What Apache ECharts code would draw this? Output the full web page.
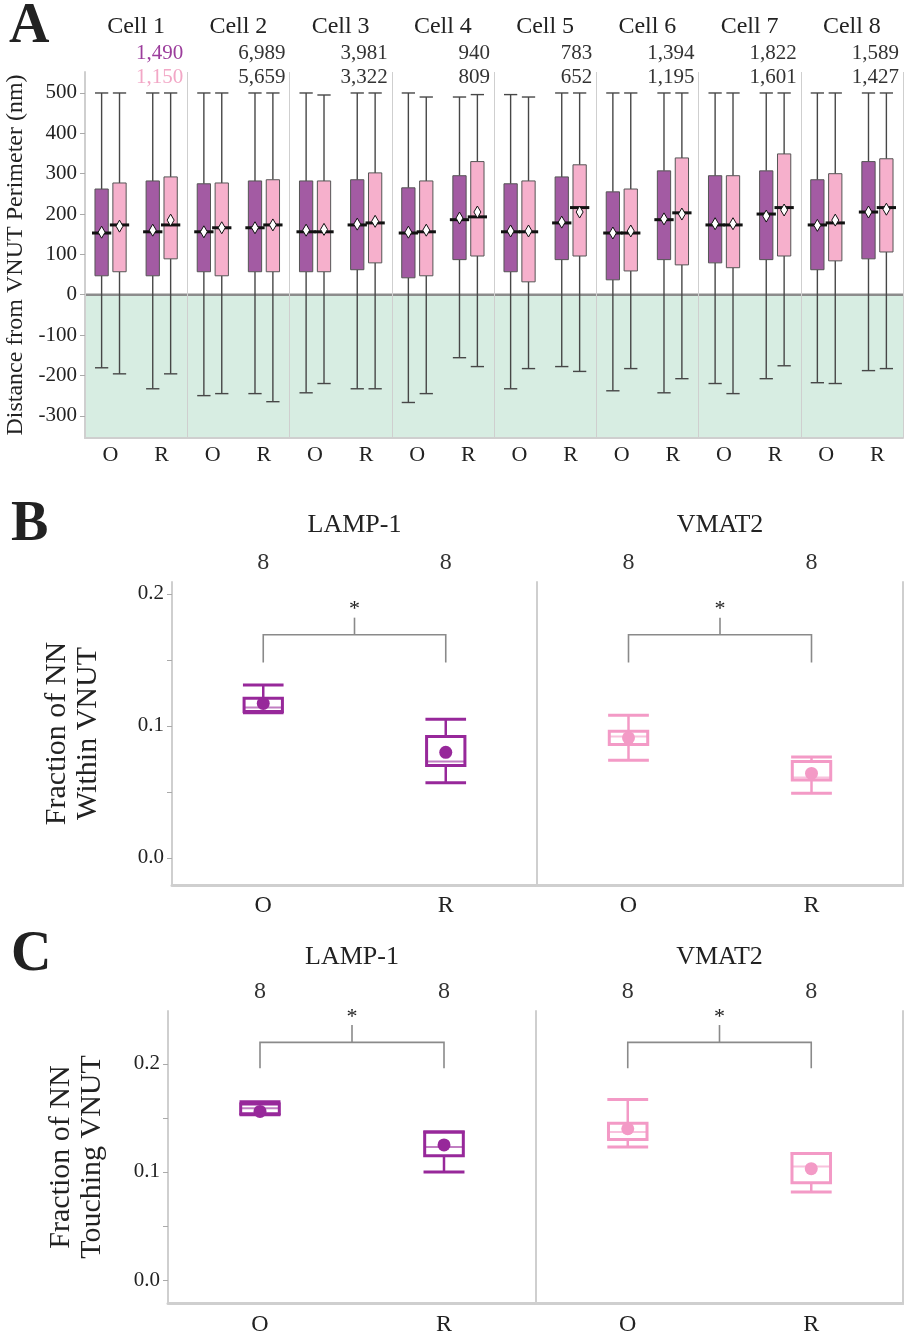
<!DOCTYPE html>
<html>
<head>
<meta charset="utf-8">
<title>VNUT distance</title>
<script src="https://cdn.jsdelivr.net/npm/echarts@6/dist/echarts.min.js"></script>
<style>
  html, body { margin: 0; padding: 0; background: #fff; }
  #chart { width: 904px; height: 1337px; }
</style>
</head>
<body>
<div id="chart"></div>
<script>
// ---- panel A data ----
const cellNames = ['Cell 1', 'Cell 2', 'Cell 3', 'Cell 4', 'Cell 5', 'Cell 6', 'Cell 7', 'Cell 8'];
const groups = ['O', 'R'];
const countsDark = ['1,490', '6,989', '3,981', '940', '783', '1,394', '1,822', '1,589'];
const countsLight = ['1,150', '5,659', '3,322', '809', '652', '1,195', '1,601', '1,427'];
const distTicks = [-300, -200, -100, 0, 100, 200, 300, 400, 500];
const zeroLevel = 0;

// [low whisker, q1, median, q3, high whisker], O then R for each cell
const darkBoxes = [
  [-181, 47, 153, 262, 500], [-233, 47, 156, 282, 500],
  [-250, 57, 156, 275, 500], [-245, 57, 166, 282, 500],
  [-243, 57, 156, 282, 500], [-233, 62, 173, 285, 500],
  [-267, 42, 153, 265, 500], [-156, 87, 186, 295, 490],
  [-233, 57, 156, 275, 496], [-178, 87, 178, 292, 500],
  [-238, 37, 153, 255, 500], [-243, 87, 186, 307, 500],
  [-220, 79, 173, 295, 500], [-208, 87, 200, 307, 500],
  [-218, 62, 173, 285, 500], [-188, 89, 205, 330, 500]
];
const darkMeans = [155, 160, 156, 166, 160, 175, 155, 190, 158, 180, 153, 188, 176, 195, 172, 205];

const lightBoxes = [
  [-196, 57, 173, 277, 500], [-196, 89, 173, 292, 500],
  [-245, 47, 166, 277, 500], [-265, 57, 173, 285, 500],
  [-220, 57, 156, 282, 495], [-233, 79, 178, 302, 500],
  [-245, 47, 156, 282, 490], [-178, 96, 193, 330, 496],
  [-183, 32, 156, 282, 490], [-190, 96, 216, 322, 500],
  [-183, 59, 153, 262, 500], [-208, 74, 203, 339, 500],
  [-245, 67, 173, 295, 500], [-176, 96, 216, 349, 500],
  [-220, 84, 178, 300, 500], [-183, 106, 216, 337, 500]
];
const lightMeans = [170, 185, 166, 173, 162, 182, 160, 205, 158, 205, 158, 200, 176, 210, 185, 212];

// ---- panels B and C data ----
const markers = ['LAMP-1', 'VMAT2'];
const nCells = [8, 8];
const fracTicks = [0, 0.05, 0.1, 0.15, 0.2];
const fracLabels = [0, 0.1, 0.2];

const withinLamp = [[0.110, 0.111, 0.114, 0.121, 0.131], [0.057, 0.070, 0.073, 0.092, 0.105]];
const withinLampMean = [0.117, 0.080];
const withinVmat = [[0.074, 0.086, 0.092, 0.096, 0.108], [0.049, 0.059, 0.061, 0.073, 0.0765]];
const withinVmatMean = [0.091, 0.064];
const withinBracket = [0.148, 0.169, 0.182];

const touchLamp = [[0.153, 0.154, 0.159, 0.163, 0.165], [0.100, 0.115, 0.123, 0.137, 0.137]];
const touchLampMean = [0.156, 0.125];
const touchVmat = [[0.123, 0.130, 0.137, 0.145, 0.167], [0.0815, 0.090, 0.105, 0.117, 0.117]];
const touchVmatMean = [0.140, 0.103];
const touchBracket = [0.196, 0.220, 0.236];

// ---- styling ----
const serif = 'Liberation Serif';
const ink = '#222';
const frame = '#cfcfcf';
const darkFill = '#a35ba3';
const lightFill = '#f6b0cc';
const lampColor = '#97289a';
const vmatColor = '#f39ac6';

const myChart = echarts.init(document.getElementById('chart'));

const cellCats = [];
cellNames.forEach(c => groups.forEach(g => cellCats.push(c + ' ' + g)));

function hidden(extra) {
  return Object.assign({
    axisLine: { show: false }, axisTick: { show: false }, splitLine: { show: false }
  }, extra);
}

// box + whisker for panel A
function cellBoxSeries(boxes, means, fill, side) {
  return {
    type: 'custom', xAxisIndex: 0, yAxisIndex: 0, z: 3, silent: true,
    data: boxes.map((b, i) => [i].concat(b, [means[i]])),
    encode: { x: 0, y: [1, 2, 3, 4, 5, 6] },
    renderItem(params, api) {
      const i = api.value(0);
      const band = api.size([1, 0])[0];
      const cx = api.coord([i, 0])[0] + side * band * 0.175;
      const y = k => api.coord([i, api.value(k)])[1];
      const w = band * 0.26;
      const ym = y(6);
      const wire = { stroke: '#474747', lineWidth: 1.4 };
      return {
        type: 'group', children: [
          { type: 'line', shape: { x1: cx, y1: y(5), x2: cx, y2: y(4) }, style: wire },
          { type: 'line', shape: { x1: cx, y1: y(2), x2: cx, y2: y(1) }, style: wire },
          { type: 'line', shape: { x1: cx - w / 2, y1: y(5), x2: cx + w / 2, y2: y(5) }, style: wire },
          { type: 'line', shape: { x1: cx - w / 2, y1: y(1), x2: cx + w / 2, y2: y(1) }, style: wire },
          { type: 'rect', shape: { x: cx - w / 2, y: y(4), width: w, height: y(2) - y(4) },
            style: { fill: fill, stroke: '#555', lineWidth: 1 } },
          { type: 'line', shape: { x1: cx - w / 2 - 3, y1: y(3), x2: cx + w / 2 + 3, y2: y(3) },
            style: { stroke: '#111', lineWidth: 3 } },
          { type: 'polygon', shape: { points: [[cx, ym - 6], [cx + 3.5, ym], [cx, ym + 6], [cx - 3.5, ym]] },
            style: { fill: '#fff', stroke: '#111', lineWidth: 1 } }
        ]
      };
    }
  };
}

// box + whisker for panels B, C
function fracBoxSeries(xi, yi, boxes, means, color) {
  return {
    type: 'custom', xAxisIndex: xi, yAxisIndex: yi, z: 3, silent: true,
    data: boxes.map((b, i) => [i].concat(b, [means[i]])),
    encode: { x: 0, y: [1, 2, 3, 4, 5, 6] },
    renderItem(params, api) {
      const i = api.value(0);
      const band = api.size([1, 0])[0];
      const cx = api.coord([i, 0])[0];
      const y = k => api.coord([i, api.value(k)])[1];
      const w = band * 0.21;
      const c = w * 0.53;
      const pen = { stroke: color, lineWidth: 3 };
      return {
        type: 'group', children: [
          { type: 'line', shape: { x1: cx, y1: y(5), x2: cx, y2: y(4) }, style: { stroke: color, lineWidth: 2.5 } },
          { type: 'line', shape: { x1: cx, y1: y(2), x2: cx, y2: y(1) }, style: { stroke: color, lineWidth: 2.5 } },
          { type: 'line', shape: { x1: cx - c, y1: y(5), x2: cx + c, y2: y(5) }, style: pen },
          { type: 'line', shape: { x1: cx - c, y1: y(1), x2: cx + c, y2: y(1) }, style: pen },
          { type: 'rect', shape: { x: cx - w / 2, y: y(4), width: w, height: y(2) - y(4) },
            style: { fill: 'none', stroke: color, lineWidth: 3 } },
          { type: 'line', shape: { x1: cx - w / 2, y1: y(3), x2: cx + w / 2, y2: y(3) },
            style: { stroke: color, lineWidth: 2, opacity: 0.6 } },
          { type: 'circle', shape: { cx: cx, cy: y(6), r: 6.5 }, style: { fill: color } }
        ]
      };
    }
  };
}

function bracketSeries(xi, yi, levels) {
  return {
    type: 'custom', xAxisIndex: xi, yAxisIndex: yi, z: 3, silent: true,
    data: [[0].concat(levels)],
    encode: { x: 0, y: [1, 2, 3] },
    renderItem(params, api) {
      const x0 = api.coord([0, 0])[0];
      const x1 = api.coord([1, 0])[0];
      const xm = (x0 + x1) / 2;
      const yLeg = api.coord([0, api.value(1)])[1];
      const yBar = api.coord([0, api.value(2)])[1];
      const yTop = api.coord([0, api.value(3)])[1];
      const pen = { stroke: '#8a8a8a', lineWidth: 1.6, fill: 'none' };
      return {
        type: 'group', children: [
          { type: 'polyline', shape: { points: [[x0, yLeg], [x0, yBar], [x1, yBar], [x1, yLeg]] }, style: pen },
          { type: 'line', shape: { x1: xm, y1: yBar, x2: xm, y2: yTop }, style: pen },
          { type: 'text', x: xm, y: yTop - 8,
            style: { text: '*', fill: ink, font: '22px "' + serif + '"', textAlign: 'center', textVerticalAlign: 'middle' } }
        ]
      };
    }
  };
}

function paneXAxes(grid, title, bottomMargin, titleMargin, countMargin) {
  return [
    { gridIndex: grid, type: 'category', data: groups,
      axisLine: { onZero: false, lineStyle: { color: frame, width: 3 } }, axisTick: { show: false },
      axisLabel: { fontFamily: serif, fontSize: 24, color: ink, margin: bottomMargin } },
    hidden({ gridIndex: grid, type: 'category', data: [title], position: 'top',
      axisLabel: { fontFamily: serif, fontSize: 26, color: ink, margin: titleMargin } }),
    hidden({ gridIndex: grid, type: 'category', data: groups, position: 'top',
      axisLabel: { fontFamily: serif, fontSize: 24, color: '#333', margin: countMargin,
        formatter: (v, i) => String(nCells[i]) } })
  ];
}

function fracYAxes(grid, min, max, name, nameGap) {
  const y = {
    gridIndex: grid, type: 'value', min: min, max: max,
    axisLine: { show: true, onZero: false, lineStyle: { color: frame, width: 2 } },
    axisTick: { show: !!name, length: 5, customValues: fracTicks, lineStyle: { color: '#aaa' } },
    axisLabel: { show: !!name, customValues: fracLabels, formatter: v => v.toFixed(1),
      fontFamily: serif, fontSize: 21, color: ink, margin: 8 },
    splitLine: { show: false }
  };
  if (name) {
    Object.assign(y, {
      name: name, nameLocation: 'middle', nameGap: nameGap, nameMoveOverlap: false,
      nameTextStyle: { fontFamily: serif, fontSize: 30, color: ink, lineHeight: 31 }
    });
  }
  return y;
}

const option = {
  animation: false,
  backgroundColor: '#fff',
  textStyle: { fontFamily: serif },
  grid: [
    { left: 85, top: 72, width: 818, height: 366, outerBoundsMode: 'none' },
    { left: 172, top: 582, width: 365, height: 303, outerBoundsMode: 'none' },
    { left: 537, top: 582, width: 366, height: 303, outerBoundsMode: 'none' },
    { left: 168, top: 1011, width: 368, height: 292, outerBoundsMode: 'none' },
    { left: 536, top: 1011, width: 367, height: 292, outerBoundsMode: 'none' }
  ],
  xAxis: [
    // 0: O/R under panel A
    { gridIndex: 0, type: 'category', data: cellCats,
      axisLine: { onZero: false, lineStyle: { color: frame, width: 2 } }, axisTick: { show: false },
      axisLabel: { interval: 0, fontFamily: serif, fontSize: 22, color: ink, margin: 6,
        formatter: v => v.split(' ').pop() } },
    // 1: cell titles
    hidden({ gridIndex: 0, type: 'category', data: cellNames, position: 'top',
      axisLabel: { interval: 0, fontFamily: serif, fontSize: 24, color: ink, margin: 33 } }),
    // 2: counts per cell
    hidden({ gridIndex: 0, type: 'category', data: cellNames, position: 'top', offset: -19,
      axisLabel: { interval: 0, margin: 2, lineHeight: 24,
        formatter: (v, i) => i === 0
          ? '{p|' + countsDark[i] + '}\n{q|' + countsLight[i] + '}'
          : '{n|' + countsDark[i] + '}\n{n|' + countsLight[i] + '}',
        rich: {
          p: { fontFamily: serif, fontSize: 21, color: '#9c3d9c', width: 94, align: 'right', lineHeight: 24 },
          q: { fontFamily: serif, fontSize: 21, color: '#f2a7c6', width: 94, align: 'right', lineHeight: 24 },
          n: { fontFamily: serif, fontSize: 21, color: '#333', width: 94, align: 'right', lineHeight: 24 }
        } } }),
    // 3: cell separators
    { gridIndex: 0, type: 'value', min: 0, max: cellNames.length, interval: 1,
      axisLine: { show: false }, axisTick: { show: false }, axisLabel: { show: false },
      splitLine: { show: true, lineStyle: { color: frame, width: 1 } } }
  ].concat(
    paneXAxes(1, markers[0], 9, 44, 7),
    paneXAxes(2, markers[1], 9, 44, 7),
    paneXAxes(3, markers[0], 10, 41, 7),
    paneXAxes(4, markers[1], 10, 41, 7)
  ),
  yAxis: [
    { gridIndex: 0, type: 'value', min: -355, max: 552,
      axisLine: { show: true, onZero: false, lineStyle: { color: frame, width: 2 } },
      axisTick: { show: true, length: 5, customValues: distTicks, lineStyle: { color: '#aaa' } },
      axisLabel: { customValues: distTicks, fontFamily: serif, fontSize: 21, color: ink, margin: 8 },
      splitLine: { show: false },
      name: 'Distance from VNUT Perimeter (nm)', nameLocation: 'middle', nameGap: 57, nameMoveOverlap: false,
      nameTextStyle: { fontFamily: serif, fontSize: 24, color: ink } },
    fracYAxes(1, -0.0205, 0.209, 'Fraction of NN\nWithin VNUT', 68),
    fracYAxes(2, -0.0205, 0.209, null),
    hidden({ gridIndex: 2, type: 'value', position: 'right', axisLabel: { show: false },
      axisLine: { show: true, onZero: false, lineStyle: { color: frame, width: 2 } } }),
    fracYAxes(3, -0.0213, 0.249, 'Fraction of NN\nTouching VNUT', 60),
    fracYAxes(4, -0.0213, 0.249, null),
    hidden({ gridIndex: 4, type: 'value', position: 'right', axisLabel: { show: false },
      axisLine: { show: true, onZero: false, lineStyle: { color: frame, width: 2 } } })
  ],
  graphic: [
    { type: 'text', left: 9, top: 0, style: { text: 'A', font: 'bold 56px "Liberation Serif"', fill: ink } },
    { type: 'text', left: 11, top: 498, style: { text: 'B', font: 'bold 56px "Liberation Serif"', fill: ink } },
    { type: 'text', left: 11, top: 928, style: { text: 'C', font: 'bold 56px "Liberation Serif"', fill: ink } }
  ],
  series: [
    // membrane-interior shading below zero
    { type: 'custom', xAxisIndex: 0, yAxisIndex: 0, z: -1, silent: true,
      data: [[0, zeroLevel]], encode: { x: 0, y: 1 },
      renderItem(params, api) {
        const cs = params.coordSys;
        const y0 = api.coord([0, api.value(1)])[1];
        return { type: 'group', children: [
          { type: 'rect', shape: { x: cs.x, y: y0, width: cs.width, height: cs.y + cs.height - y0 },
            style: { fill: '#d7ede2' } },
          { type: 'line', shape: { x1: cs.x, y1: y0, x2: cs.x + cs.width, y2: y0 },
            style: { stroke: '#8c8c8c', lineWidth: 2.5 } }
        ] };
      } },
    cellBoxSeries(darkBoxes, darkMeans, darkFill, -1),
    cellBoxSeries(lightBoxes, lightMeans, lightFill, 1),

    fracBoxSeries(4, 1, withinLamp, withinLampMean, lampColor),
    bracketSeries(4, 1, withinBracket),
    fracBoxSeries(7, 2, withinVmat, withinVmatMean, vmatColor),
    bracketSeries(7, 2, withinBracket),

    fracBoxSeries(10, 4, touchLamp, touchLampMean, lampColor),
    bracketSeries(10, 4, touchBracket),
    fracBoxSeries(13, 5, touchVmat, touchVmatMean, vmatColor),
    bracketSeries(13, 5, touchBracket)
  ]
};

myChart.setOption(option);
</script>
</body>
</html>
